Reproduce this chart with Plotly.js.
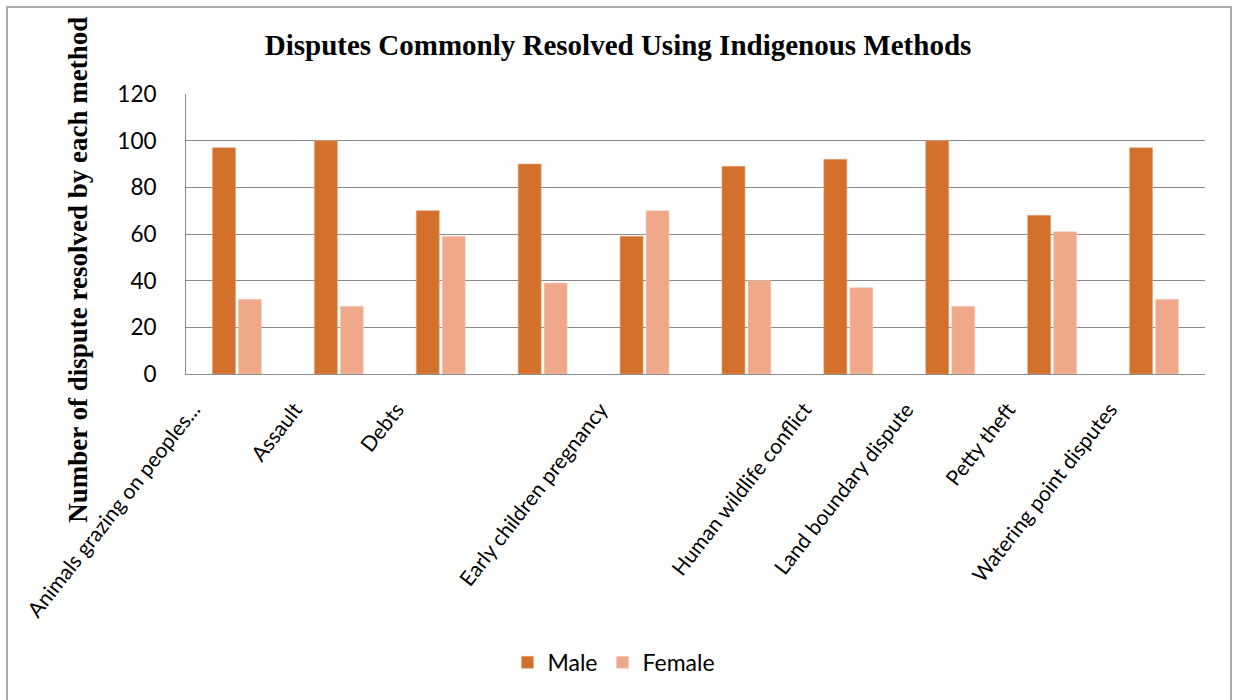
<!DOCTYPE html>
<html>
<head>
<meta charset="utf-8">
<script src="https://cdn.plot.ly/plotly-3.0.1.min.js"></script>
<style>
  html, body { margin: 0; padding: 0; background: #fff; }
  #wrap { position: relative; width: 1241px; height: 700px; }
  #chart { width: 1241px; height: 700px; }
  #frame { position: absolute; left: 6px; top: 6px; width: 1226px; height: 720px;
           border: 2px solid #ababab; pointer-events: none; box-sizing: border-box; }
</style>
</head>
<body>
<div id="wrap">
  <div id="chart"></div>
  <div id="frame"></div>
</div>
<script>
const categories = [
  "Animals grazing on peoples...",
  "Assault",
  "Debts",
  "",
  "Early children pregnancy",
  "",
  "Human wildlife conflict",
  "Land boundary dispute",
  "Petty theft",
  "Watering point disputes"
];
const maleValues   = [97, 100, 70, 90, 59, 89, 92, 100, 68, 97];
const femaleValues = [32, 29, 59, 39, 70, 40, 37, 29, 61, 32];
const seriesNames = ["Male", "Female"];
const yTicks = [0, 20, 40, 60, 80, 100, 120];

const xIdx = categories.map((_, i) => i);

const traces = [
  { type: "bar", name: seriesNames[0], x: xIdx, y: maleValues,
    marker: { color: "#D2702C", line: { color: "#E9A27A", width: 0.6 } } },
  { type: "bar", name: seriesNames[1], x: xIdx, y: femaleValues,
    marker: { color: "#F0A88A", line: { color: "#F7D0C0", width: 0.6 } } }
];

const layout = {
  width: 1241, height: 700,
  paper_bgcolor: "#ffffff", plot_bgcolor: "#ffffff",
  margin: { l: 186, r: 36, t: 94, b: 326, pad: 0 },
  barmode: "group", bargap: 0.49, bargroupgap: 0.115,
  showlegend: true,
  title: {
    text: "Disputes Commonly Resolved Using Indigenous Methods",
    font: { family: "Liberation Serif, Times New Roman, serif", size: 29, color: "#000", weight: "bold" },
    x: 0.498, xanchor: "center", y: 0.936, yanchor: "middle", xref: "container", yref: "container"
  },
  xaxis: {
    range: [-0.5, 9.5],
    tickmode: "array", tickvals: xIdx, ticktext: categories,
    tickangle: -52,
    tickfont: { family: "Lato, Liberation Sans, sans-serif", size: 21, color: "#000" },
    showgrid: false, zeroline: false,
    showline: true, linecolor: "#8c8c8c", linewidth: 1,
    ticks: "", ticklabelshift: -44, ticklabelstandoff: 14
  },
  yaxis: {
    range: [0, 120], tickmode: "array", tickvals: yTicks,
    tickfont: { family: "Lato, Liberation Sans, sans-serif", size: 22.5, color: "#000" },
    showgrid: true, gridcolor: "#8a8a8a", gridwidth: 1,
    zeroline: false, showline: true, linecolor: "#8a8a8a", linewidth: 1,
    ticks: "", ticklabelstandoff: 24
  },
  legend: {
    orientation: "h", x: 0.42, xanchor: "center", y: -1.03, yanchor: "middle",
    font: { family: "Lato, Liberation Sans, sans-serif", size: 23, color: "#000" },
    itemwidth: 30, traceorder: "normal"
  },
  annotations: [{
    text: "Number of dispute resolved by each method",
    xref: "paper", yref: "paper", x: -0.106, y: 0.372,
    xanchor: "center", yanchor: "middle", textangle: -90, showarrow: false,
    font: { family: "Liberation Serif, Times New Roman, serif", size: 27, color: "#000", weight: "bold" }
  }]
};

Plotly.newPlot("chart", traces, layout, { displayModeBar: false, staticPlot: true });
</script>
</body>
</html>
